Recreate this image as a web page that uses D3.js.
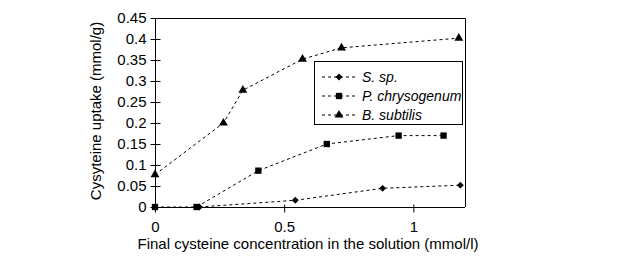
<!DOCTYPE html>
<html>
<head>
<meta charset="utf-8">
<script src="https://cdn.jsdelivr.net/npm/d3@7"></script>
<style>
  body { margin: 0; background: #fff; }
  svg text { font-family: "Liberation Sans", Arial, sans-serif; fill: #000; }
</style>
</head>
<body>
<svg id="chart" width="617" height="263"></svg>
<script>
// data
var seriesNames = ['S. sp.', 'P. chrysogenum', 'B. subtilis']
var spX = [0.172, 0.543, 0.881, 1.182]
var spY = [0, 0.016, 0.0445, 0.052]
var pcX = [0, 0.161, 0.4, 0.665, 0.943, 1.117]
var pcY = [0, 0, 0.0865, 0.15, 0.17, 0.17]
var bsX = [0, 0.265, 0.34, 0.571, 0.722, 1.176]
var bsY = [0.077, 0.2, 0.278, 0.352, 0.379, 0.402]
var xTicks = [0, 0.5, 1]
var yTicks = [0, 0.05, 0.1, 0.15, 0.2, 0.25, 0.3, 0.35, 0.4, 0.45]

var series = [
  { name: seriesNames[0], shape: d3.symbolDiamond2, size: 30, pts: spX.map((x, i) => ({ x: x, y: spY[i] })) },
  { name: seriesNames[1], shape: d3.symbolSquare, size: 40, pts: pcX.map((x, i) => ({ x: x, y: pcY[i] })) },
  { name: seriesNames[2], shape: d3.symbolTriangle, size: 34, pts: bsX.map((x, i) => ({ x: x, y: bsY[i] })) }
]

var svg = d3.select('#chart')
var pL = 155, pR = 465, pT = 18, pB = 207

var xScale = d3.scaleLinear().domain([0, 1.2]).range([pL, pR])
var yScale = d3.scaleLinear().domain([0, 0.45]).range([pB, pT])

// frame: top and right
svg.append('path')
  .attr('d', `M${pL},${pT + 0.5}H${pR + 0.5}V${pB}`)
  .attr('fill', 'none').attr('stroke', '#000')

// y axis
var yAxis = d3.axisLeft(yScale).tickValues(yTicks).tickSize(5).tickPadding(4)
  .tickFormat(d => String(+d.toFixed(2)))
var yG = svg.append('g').attr('transform', `translate(${pL + 0.5},0)`).call(yAxis)
yG.selectAll('.tick line').attr('x2', 5).attr('x1', -5)
yG.select('.domain').attr('d', `M0,${pT}V${pB}`)

// x axis
var xAxis = d3.axisBottom(xScale).tickValues(xTicks).tickSize(5).tickPadding(9)
  .tickFormat(d => String(d))
var xG = svg.append('g').attr('transform', `translate(0,${pB + 0.5})`).call(xAxis)
xG.selectAll('.tick line').attr('y1', -3).attr('y2', 5)
xG.select('.domain').attr('d', `M${pL},0H${pR}`)

svg.selectAll('.tick text').style('font-size', '15px').attr('font-family', null)
svg.selectAll('.domain, .tick line').attr('stroke', '#000')

// axis titles
svg.append('text')
  .attr('x', 308).attr('y', 249)
  .attr('text-anchor', 'middle').style('font-size', '15px')
  .text('Final cysteine concentration in the solution (mmol/l)')
svg.append('text')
  .attr('transform', 'translate(101,111) rotate(-90)')
  .attr('text-anchor', 'middle').style('font-size', '15px')
  .text('Cysyteine uptake (mmol/g)')

// lines + markers
var line = d3.line().x(d => xScale(d.x)).y(d => yScale(d.y))
series.forEach(s => {
  svg.append('path').datum(s.pts)
    .attr('d', line).attr('fill', 'none')
    .attr('stroke', '#000').attr('stroke-width', 1)
    .attr('stroke-dasharray', '3,3')
  svg.selectAll(null).data(s.pts).enter().append('path')
    .attr('d', d3.symbol().type(s.shape).size(s.size))
    .attr('transform', d => `translate(${xScale(d.x)},${yScale(d.y)})`)
    .attr('fill', '#000')
})

// legend
var lg = svg.append('g')
lg.append('rect')
  .attr('x', 314.5).attr('y', 61.5).attr('width', 148).attr('height', 63)
  .attr('fill', '#fff').attr('stroke', '#000')
var rowY = [77, 96, 115]
series.forEach((s, i) => {
  lg.append('line')
    .attr('x1', 322).attr('x2', 356).attr('y1', rowY[i]).attr('y2', rowY[i])
    .attr('stroke', '#000').attr('stroke-dasharray', '3,3')
  lg.append('path')
    .attr('d', d3.symbol().type(s.shape).size(s.size))
    .attr('transform', `translate(339,${rowY[i]})`).attr('fill', '#000')
  lg.append('text')
    .attr('x', 362).attr('y', rowY[i] + 5)
    .style('font-size', '14px').style('font-style', 'italic')
    .text(s.name)
})
</script>
</body>
</html>
